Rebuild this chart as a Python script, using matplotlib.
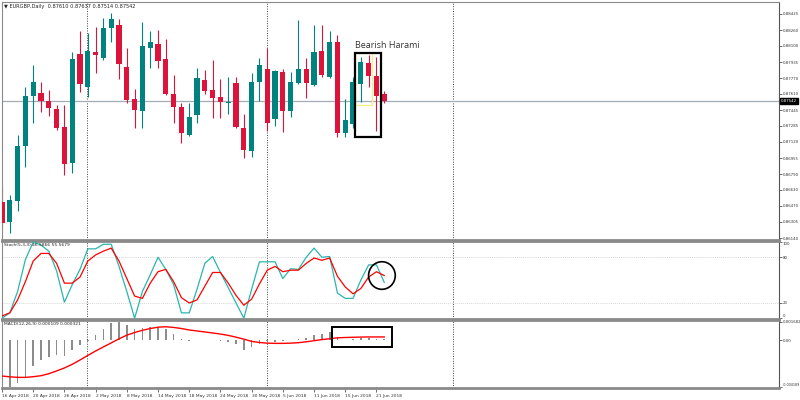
import numpy as np
import matplotlib.pyplot as plt
from matplotlib.patches import Rectangle, Ellipse
import matplotlib.transforms as mtransforms

# EURGBP daily candles, 16 Apr 2018 .. 22 Jun 2018
opens = [0.86510, 0.86306, 0.86521, 0.87082, 0.87592, 0.87616, 0.87538, 0.87453, 0.87269, 0.86902,
         0.88014, 0.87677, 0.88040, 0.87973, 0.88281, 0.88313, 0.87881, 0.87555, 0.87439, 0.88081,
         0.88116, 0.87963, 0.87606, 0.87473, 0.87191, 0.87395, 0.87752, 0.87650, 0.87575, 0.87520,
         0.87724, 0.87265, 0.87031, 0.87728, 0.87864, 0.87354, 0.87830, 0.87435, 0.87718, 0.87861,
         0.87701, 0.88050, 0.87786, 0.88136, 0.87208, 0.87300, 0.87707, 0.87928, 0.87792, 0.87610]
highs = [0.86663, 0.86579, 0.87191, 0.87684, 0.87905, 0.87734, 0.87650, 0.87497, 0.87497, 0.88034,
         0.88255, 0.88228, 0.88295, 0.88381, 0.88432, 0.88371, 0.88081, 0.87657, 0.88346, 0.88255,
         0.88262, 0.88167, 0.87803, 0.87514, 0.87514, 0.87871, 0.87854, 0.87956, 0.87759, 0.87786,
         0.87786, 0.87405, 0.87826, 0.87973, 0.88075, 0.87854, 0.87864, 0.87837, 0.88364, 0.87973,
         0.88313, 0.88313, 0.88255, 0.88211, 0.87555, 0.87786, 0.87983, 0.88007, 0.87989, 0.87637]
lows = [0.86242, 0.86191, 0.86419, 0.86867, 0.87316, 0.87428, 0.87385, 0.87242, 0.86783, 0.86800,
        0.87632, 0.87582, 0.87820, 0.87956, 0.88142, 0.87762, 0.87514, 0.87259, 0.87265, 0.87871,
        0.87871, 0.87599, 0.87310, 0.87106, 0.87181, 0.87316, 0.87609, 0.87367, 0.87361, 0.87402,
        0.87262, 0.86953, 0.86963, 0.87541, 0.87235, 0.87283, 0.87218, 0.87371, 0.87711, 0.87565,
        0.87691, 0.87786, 0.87775, 0.87173, 0.87173, 0.87259, 0.87530, 0.87677, 0.87235, 0.87514]
closes = [0.86296, 0.86528, 0.87079, 0.87592, 0.87728, 0.87538, 0.87469, 0.87259, 0.86895, 0.87963,
          0.87711, 0.88048, 0.88007, 0.88281, 0.88371, 0.87912, 0.87548, 0.87446, 0.88099, 0.88136,
          0.87949, 0.87606, 0.87479, 0.87208, 0.87371, 0.87769, 0.87640, 0.87571, 0.87530, 0.87530,
          0.87269, 0.87037, 0.87728, 0.87905, 0.87310, 0.87844, 0.87435, 0.87728, 0.87861, 0.87718,
          0.88040, 0.87802, 0.88136, 0.87208, 0.87344, 0.87728, 0.87932, 0.87792, 0.87589, 0.87542]

stoch_k = [0, 7, 35, 77, 100, 96, 88, 62, 21, 44,
           64, 91, 91, 97, 97, 68, 35, 0, 35, 57,
           80, 64, 44, 7, 7, 38, 72, 81, 60, 40,
           20, 0, 38, 74, 74, 74, 52, 65, 64, 80,
           92, 80, 81, 33, 26, 26, 50, 70, 70, 47]
stoch_d = [3, 7, 24, 48, 75, 85, 85, 72, 46, 46,
           54, 75, 83, 88, 92, 75, 52, 29, 26, 46,
           61, 64, 48, 27, 20, 24, 42, 60, 60, 46,
           30, 17, 25, 45, 63, 68, 61, 63, 63, 72,
           79, 76, 79, 55, 41, 32, 39, 54, 61, 56]

macd_hist = [-0.00395, -0.00419, -0.00380, -0.00330, -0.00230, -0.00180, -0.00150, -0.00135, -0.00140, -0.00085,
             -0.00045, -0.00005, 0.00050, 0.00100, 0.00155, 0.00168, 0.00140, 0.00100, 0.00112, 0.00120,
             0.00118, 0.00100, 0.00060, 0.00015, -0.00003, 0.00004, 0.00003, 0.00002, -0.00003, -0.00010,
             -0.00030, -0.00085, -0.00060, -0.00030, -0.00008, -0.00015, -0.00008, 0.00005, 0.00015, 0.00022,
             0.00050, 0.00058, 0.00080, 0.00020, 0.00008, 0.00012, 0.00018, 0.00020, 0.00016, 0.000109]
macd_signal = [-0.00321, -0.00328, -0.00333, -0.00333, -0.00327, -0.00318, -0.00300, -0.00275, -0.00248, -0.00215,
               -0.00176, -0.00135, -0.00095, -0.00058, -0.00022, 0.00015, 0.00048, 0.00072, 0.00092, 0.00108,
               0.00120, 0.00124, 0.00118, 0.00108, 0.00095, 0.00086, 0.00077, 0.00068, 0.00058, 0.00046,
               0.00030, 0.00012, -0.00008, -0.00018, -0.00024, -0.00026, -0.00026, -0.00024, -0.00020, -0.00012,
               -0.00002, 0.00008, 0.00016, 0.00024, 0.00027, 0.00029, 0.00031, 0.00032, 0.00032, 0.00032]

date_labels = ["16 Apr 2018", "20 Apr 2018", "26 Apr 2018", "2 May 2018", "8 May 2018",
               "14 May 2018", "18 May 2018", "24 May 2018", "30 May 2018", "5 Jun 2018",
               "11 Jun 2018", "15 Jun 2018", "21 Jun 2018"]
price_ticks = [0.88425, 0.88260, 0.88100, 0.87935, 0.87770, 0.87610, 0.87445,
               0.87285, 0.87120, 0.86955, 0.86790, 0.86630, 0.86470, 0.86305, 0.86140]
last_price = 0.87542

UP = "#00827f"
DOWN = "#dc143c"
FRAME = "#8a8a8a"
SMALL = 2.8

x = np.arange(len(closes))
o = np.array(opens); c = np.array(closes)
cols = [UP if cc >= oo else DOWN for oo, cc in zip(o, c)]

fig = plt.figure(figsize=(8, 4), dpi=100)
W = 777 / 800
ax1 = fig.add_axes([2 / 800, 0.40, W, 0.595])
ax2 = fig.add_axes([2 / 800, 0.2025, W, 0.195])
ax3 = fig.add_axes([2 / 800, 0.03, W, 0.17])

for ax in (ax1, ax2, ax3):
    ax.set_xlim(0, 99.6)
    ax.yaxis.tick_right()
    ax.tick_params(axis="y", labelsize=SMALL, length=2, width=0.5, pad=0.8,
                   colors="#333333", direction="out")
    ax.tick_params(axis="x", bottom=False, labelbottom=False)
    for s in ax.spines.values():
        s.set_color(FRAME)
        s.set_linewidth(0.8)
    ax.spines["right"].set_color("#555555")
    # monthly separators
    for sep in (10.9, 34.0, 57.8):
        ax.axvline(sep, color="#444444", lw=0.7, ls=(0, (1, 1.5)), zorder=0)

ax1.spines["bottom"].set_linewidth(2)
ax2.spines["top"].set_linewidth(2)
ax2.spines["bottom"].set_linewidth(2)
ax3.spines["top"].set_linewidth(2)
ax3.spines["bottom"].set_linewidth(2)

# --- price panel
ax1.set_ylim(0.86120, 0.88547)
ax1.vlines(x, lows, highs, colors=cols, lw=0.8, zorder=2)
body_low = np.minimum(o, c)
body_h = np.maximum(np.abs(c - o), 0.00003)
ax1.bar(x, body_h, bottom=body_low, width=0.66, color=cols, zorder=3)
ax1.axhline(last_price, color="#a3abb3", lw=0.9, zorder=1)
ax1.set_yticks(price_ticks)
ax1.set_yticklabels([f"{p:.5f}" for p in price_ticks])
trans = mtransforms.blended_transform_factory(ax1.transAxes, ax1.transData)
ax1.text(1.002, last_price, f"{last_price:.5f}", transform=trans, fontsize=SMALL,
         color="white", va="center", ha="left",
         bbox=dict(boxstyle="square,pad=0.25", fc="black", ec="black"))
ax1.text(0.003, 0.992, "\u25bc EURGBP,Daily  0.87610 0.87637 0.87514 0.87542",
         transform=ax1.transAxes, fontsize=3.6, va="top", ha="left", color="#222222")

# Bearish Harami annotation
ax1.add_patch(Rectangle((45.2, 0.87494), 2.2, 0.00530, fill=False, ec="#f5f08a", lw=1.0, zorder=4))
ax1.add_patch(Rectangle((45.3, 0.87173), 3.3, 0.00851, fill=False, ec="black", lw=1.6, zorder=5))
ax1.text(45.3, 0.88083, "Bearish Harami", fontsize=6.5, family="Open Sans",
         color="#333333", ha="left", va="baseline")

# --- stochastic panel
ax2.set_ylim(-1.05, 101.3)
ax2.axhline(80, color="#c8c8c8", lw=0.6, ls=(0, (1, 1.5)))
ax2.axhline(20, color="#c8c8c8", lw=0.6, ls=(0, (1, 1.5)))
ax2.plot(x, stoch_k, color="#2cb5ad", lw=0.9, zorder=3)
ax2.plot(x, stoch_d, color="#ff0000", lw=0.9, zorder=4)
ax2.set_yticks([100, 80, 20, 0])
ax2.set_yticklabels(["100", "80", "20", "0"])
lbls = ax2.get_yticklabels()
lbls[0].set_va("top")
lbls[3].set_va("bottom")
ax2.add_patch(Ellipse((48.7, 56), 3.42, 36.2, fill=False, ec="black", lw=1.2, zorder=5))
ax2.text(0.003, 0.97, "Stoch(5,3,3) 46.5866 55.5679", transform=ax2.transAxes,
         fontsize=3.2, va="top", ha="left", color="#222222")

# --- MACD panel
ax3.set_ylim(-0.00429, 0.00185)
ax3.bar(x, macd_hist, width=0.22, color="#8c8c8c", zorder=2)
ax3.plot(x, macd_signal, color="#ff0000", lw=1.0, zorder=3)
ax3.set_yticks([0.001682, 0.0, -0.004189])
ax3.set_yticklabels(["0.001682", "0.00", "-0.004189"])
mlbls = ax3.get_yticklabels()
mlbls[2].set_fontsize(2.4)
mlbls[2].set_va("bottom")
ax3.add_patch(Rectangle((42.3, -0.00056), 7.7, 0.00181, fill=False, ec="black", lw=1.4, zorder=5))
ax3.text(0.003, 0.97, "MACD(12,26,9) 0.000109 0.000321", transform=ax3.transAxes,
         fontsize=3.2, va="top", ha="left", color="#222222")

# date axis
date_pos = x[::4][:len(date_labels)]
ax3.tick_params(axis="x", bottom=True, labelbottom=True, labelsize=3.2, length=3,
                width=0.5, pad=1, colors="#333333")
ax3.set_xticks(date_pos)
ax3.set_xticklabels(date_labels, ha="left")
ax3.set_xlim(0, 99.6)

fig.savefig("out.png", dpi=100, facecolor="white")
